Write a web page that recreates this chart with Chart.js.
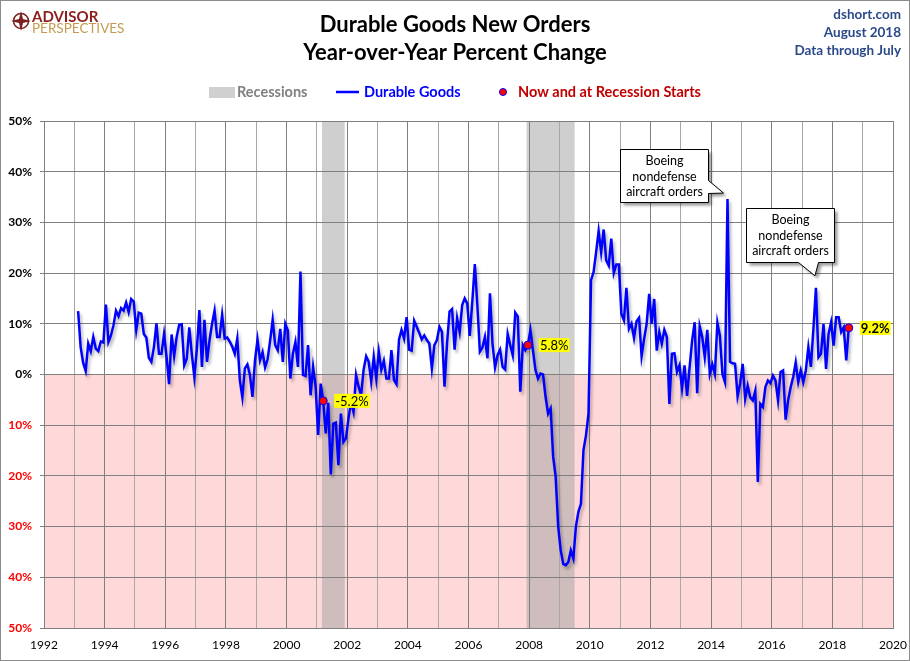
<!DOCTYPE html>
<html>
<head>
<meta charset="utf-8">
<title>Durable Goods New Orders</title>
<script src="https://cdn.jsdelivr.net/npm/chart.js@4.4.0/dist/chart.umd.min.js"></script>
<style>
    html, body { margin: 0; padding: 0; background: #fff; }
    #wrap { width: 910px; height: 661px; }
</style>
</head>
<body>
<div id="wrap"><canvas id="chart" width="910" height="661"></canvas></div>
<script>
// year-over-year % change of durable goods new orders, monthly, first value is Feb 1993
const startYear = 1993
const startMonth = 2

const yoy1990s = [
    12.5, 5.4, 2.3, 0.7, 6.1, 4.6, 7.4, 5.1, 4.6, 6.5, 6.3,
    13.8, 6.4, 7.7, 9.7, 12.6, 11.5, 13.1, 12.6, 14.2, 12.3, 14.9, 14.4,
    8.7, 12.2, 12.0, 8.0, 7.3, 3.3, 2.5, 5.4, 10.1, 4.1, 4.1, 8.0,
    3.5, -1.9, 7.9, 3.6, 7.4, 9.8, 9.9, 1.8, 3.1, 9.3, 4.0, -0.5,
    5.0, 12.7, 1.5, 10.8, 2.5, 6.7, 10.0, 12.6, 7.4, 7.4, 11.8, 7.1,
    7.3, 6.5, 5.5, 4.1, 7.1, -1.1, -4.5, 1.2, 2.0, -0.1, -4.4, 2.8,
    6.9, 2.8, 4.4, 1.4, 3.0, 6.7, 10.8, 5.8, 4.8, 9.0, 2.5, 10.0
]
const yoy2000s = [
    8.7, -0.8, 4.1, 6.4, 1.5, 20.3, -0.1, -0.3, 5.8, -4.1, 1.5, -2.4,
    -11.9, -1.8, -5.2, -11.6, -5.6, -19.7, -9.7, -9.5, -17.9, -7.7, -13.3, -12.6,
    -8.7, -5.4, -7.4, -0.1, -2.4, -4.1, 1.0, 3.6, 2.5, -1.4, 3.5, -0.8,
    4.5, 0.9, 2.7, -0.8, -0.8, 4.8, -1.1, -1.9, 6.9, 8.8, 7.1, 11.3,
    4.9, 4.7, 10.6, 9.4, 8.2, 6.9, 7.7, 6.8, 6.1, 1.2, 5.8, 6.8,
    9.4, 8.4, -2.4, 6.1, 12.4, 12.9, 4.9, 11.1, 8.4, 13.7, 15.0, 14.0,
    7.6, 14.3, 21.8, 13.7, 4.5, 5.3, 7.4, 3.2, 16.0, 6.1, 1.4, 3.8,
    4.9, 1.5, 1.0, 8.0, 5.8, 3.8, 12.2, 11.4, -3.4, 5.8, 4.8, 5.8,
    8.8, 4.8, 0.9, -0.8, 0.2, 0.0, -4.4, -7.7, -6.7, -16.2, -20.2, -30.0,
    -34.7, -37.4, -37.6, -37.0, -34.7, -36.3, -30.0, -27.1, -25.5, -14.9, -12.0, -7.7
]
const yoy2010s = [
    18.6, 20.2, 24.1, 28.3, 24.1, 28.6, 22.5, 21.5, 26.8, 20.0, 21.7, 21.7,
    12.0, 10.7, 17.1, 9.0, 10.0, 7.2, 10.5, 11.2, 3.6, 7.0, 10.0, 15.9,
    10.0, 14.9, 4.7, 8.4, 6.1, 8.8, 7.4, -5.8, 4.1, 4.2, 0.5, 1.8,
    -2.8, 1.8, -4.2, 1.4, 6.7, 10.3, -3.7, 9.5, 7.4, 3.4, 8.8, 0.1,
    2.0, 0.1, 10.2, 7.6, 0.1, -1.5, 34.6, 2.5, 2.2, 2.1, -4.3, -1.8,
    2.1, -4.8, -2.2, -4.5, -5.1, -3.2, -21.2, -5.8, -6.4, -2.5, -1.2, -1.7,
    -0.2, -1.2, -5.1, 0.5, 0.8, -8.9, -5.1, -2.5, -0.5, 2.4, -1.5, 0.8,
    -1.5, 0.8, 5.4, 1.5, 9.0, 17.1, 3.4, 4.1, 10.0, 1.1, 8.0, 10.3,
    5.7, 11.3, 11.3, 8.4, 9.3, 2.8, 9.2
]

const recessions = [['2001-03', '2001-11'], ['2007-12', '2009-06']]
const markerMonths = ['2001-03', '2007-12', '2018-07']
const boeingMonths = ['2014-07', '2017-06']
const calloutText = ['Boeing', 'nondefense', 'aircraft orders']
const yTicks = [-50, -40, -30, -20, -10, 0, 10, 20, 30, 40, 50]
const xLabelYears = [1992, 1994, 1996, 1998, 2000, 2002, 2004, 2006, 2008, 2010, 2012, 2014, 2016, 2018, 2020]

const FONT = 'Lato, "Open Sans", sans-serif'

const yoyValues = yoy1990s.concat(yoy2000s, yoy2010s)

function parseYM(ym) {
    const parts = ym.split('-')
    return [Number(parts[0]), Number(parts[1])]
}
function monthIndex(ym) {
    const [y, m] = parseYM(ym)
    return (y - startYear) * 12 + (m - startMonth)
}
function monthX(i) {
    return startYear + (startMonth - 1 + i + 0.5) / 12
}

const seriesPoints = yoyValues.map((v, i) => ({ x: monthX(i), y: v }))
const markerPoints = markerMonths.map(ym => seriesPoints[monthIndex(ym)])


// pink negative zone, grey recession bars, outer frame
const backdrop = {
    id: 'backdrop',
    beforeDraw(chart) {
        const { ctx, chartArea: a, scales: { x, y } } = chart
        ctx.save()
        ctx.fillStyle = '#ffffff'
        ctx.fillRect(0, 0, chart.width, chart.height)

        const y0 = y.getPixelForValue(0)
        ctx.fillStyle = '#FFD9D9'
        ctx.fillRect(a.left, y0, a.right - a.left, a.bottom - y0)

        ctx.fillStyle = 'rgba(160,160,160,0.5)'
        recessions.forEach(function (r) {
            const [sy, sm] = parseYM(r[0])
            const [ey, em] = parseYM(r[1])
            const x1 = x.getPixelForValue(sy + (sm - 1) / 12)
            const x2 = x.getPixelForValue(ey + em / 12)
            ctx.fillRect(x1, a.top, x2 - x1, a.bottom - a.top)
        })

        ctx.strokeStyle = '#8c8c8c'
        ctx.lineWidth = 1
        ctx.strokeRect(0.5, 0.5, chart.width - 1, chart.height - 1)
        ctx.restore()
    }
}

// soft shadow under the blue line
const lineShadow = {
    id: 'lineShadow',
    beforeDatasetDraw(chart, args) {
        if (args.index !== 1) return
        const ctx = chart.ctx
        ctx.save()
        ctx.shadowColor = 'rgba(0,0,0,0.28)'
        ctx.shadowBlur = 3
        ctx.shadowOffsetX = 2
        ctx.shadowOffsetY = 3
    },
    afterDatasetDraw(chart, args) {
        if (args.index !== 1) return
        chart.ctx.restore()
    }
}

// header, legend, value labels and callouts
const overlay = {
    id: 'overlay',
    afterDraw(chart) {
        const ctx = chart.ctx
        ctx.save()

        // logo
        ctx.strokeStyle = '#7B1F1F'
        ctx.fillStyle = '#7B1F1F'
        ctx.lineWidth = 1.6
        ctx.beginPath()
        ctx.arc(21, 21, 7.5, 0, Math.PI * 2)
        ctx.stroke()
        ctx.beginPath()
        ctx.moveTo(21, 11); ctx.lineTo(23, 19); ctx.lineTo(31, 21); ctx.lineTo(23, 23)
        ctx.lineTo(21, 31); ctx.lineTo(19, 23); ctx.lineTo(11, 21); ctx.lineTo(19, 19)
        ctx.closePath()
        ctx.fill()
        ctx.textAlign = 'left'
        ctx.textBaseline = 'alphabetic'
        ctx.font = 'bold 15px ' + FONT
        ctx.fillStyle = '#8B1E1E'
        ctx.fillText('ADVISOR', 32, 22)
        ctx.font = '13.5px ' + FONT
        ctx.fillStyle = '#C49B4E'
        ctx.fillText('PERSPECTIVES', 32, 33)

        // title
        ctx.textAlign = 'center'
        ctx.textBaseline = 'middle'
        ctx.fillStyle = '#000000'
        ctx.font = 'bold 22px ' + FONT
        ctx.fillText('Durable Goods New Orders', 455, 25)
        ctx.fillText('Year-over-Year Percent Change', 455, 53)

        // notes top right
        ctx.textAlign = 'right'
        ctx.fillStyle = '#2B4A8A'
        ctx.font = 'bold 13.5px ' + FONT
        ctx.fillText('dshort.com', 901, 15)
        ctx.fillText('August 2018', 901, 33)
        ctx.fillText('Data through July', 901, 51)

        // legend
        ctx.textAlign = 'left'
        ctx.font = 'bold 14.5px ' + FONT
        ctx.fillStyle = '#D0D0D0'
        ctx.fillRect(209, 87, 26, 11)
        ctx.fillStyle = '#808080'
        ctx.fillText('Recessions', 237, 92)
        ctx.strokeStyle = '#0000FF'
        ctx.lineWidth = 2.5
        ctx.beginPath()
        ctx.moveTo(336, 92); ctx.lineTo(359, 92)
        ctx.stroke()
        ctx.fillStyle = '#0000FF'
        ctx.fillText('Durable Goods', 364, 92)
        ctx.beginPath()
        ctx.arc(503, 92, 3.5, 0, Math.PI * 2)
        ctx.fillStyle = '#FF0000'
        ctx.fill()
        ctx.lineWidth = 1
        ctx.strokeStyle = '#0000FF'
        ctx.stroke()
        ctx.fillStyle = '#C00000'
        ctx.fillText('Now and at Recession Starts', 518, 92)

        // yellow value labels next to the red dots
        const dots = chart.getDatasetMeta(0).data
        markerPoints.forEach(function (p, i) {
            const el = dots[i]
            const txt = p.y.toFixed(1) + '%'
            ctx.font = (i === markerPoints.length - 1 ? 'bold ' : '') + '13px ' + FONT
            const w = ctx.measureText(txt).width
            const lx = el.x + 12
            ctx.fillStyle = '#FFFF00'
            ctx.fillRect(lx - 1, el.y - 7, w + 2, 14)
            ctx.fillStyle = '#000000'
            ctx.textBaseline = 'middle'
            ctx.fillText(txt, lx, el.y + 0.5)
        })

        // Boeing callouts
        const line = chart.getDatasetMeta(1).data
        const boxes = [
            { dx: -107, dy: -50, w: 88, h: 53, tail: 'right' },
            { dx: -70, dy: -80, w: 88, h: 54, tail: 'bottom' }
        ]
        boeingMonths.forEach(function (ym, i) {
            const el = line[monthIndex(ym)]
            const b = boxes[i]
            const bx = Math.round(el.x + b.dx) + 0.5
            const by = Math.round(el.y + b.dy) + 0.5
            ctx.beginPath()
            ctx.moveTo(bx, by)
            ctx.lineTo(bx + b.w, by)
            if (b.tail === 'right') {
                ctx.lineTo(bx + b.w, by + 31)
                ctx.lineTo(el.x - 4, el.y - 6)
                ctx.lineTo(bx + b.w, by + 44)
                ctx.lineTo(bx + b.w, by + b.h)
                ctx.lineTo(bx, by + b.h)
            } else {
                ctx.lineTo(bx + b.w, by + b.h)
                ctx.lineTo(bx + 72, by + b.h)
                ctx.lineTo(el.x - 1, el.y - 12)
                ctx.lineTo(bx + 52, by + b.h)
                ctx.lineTo(bx, by + b.h)
            }
            ctx.closePath()
            ctx.save()
            ctx.shadowColor = 'rgba(0,0,0,0.4)'
            ctx.shadowBlur = 3
            ctx.shadowOffsetX = 3
            ctx.shadowOffsetY = 3
            ctx.fillStyle = '#ffffff'
            ctx.fill()
            ctx.restore()
            ctx.strokeStyle = '#000000'
            ctx.lineWidth = 1
            ctx.stroke()

            ctx.fillStyle = '#000000'
            ctx.font = '12.5px ' + FONT
            ctx.textAlign = 'center'
            ctx.textBaseline = 'middle'
            calloutText.forEach(function (t, k) {
                ctx.fillText(t, bx + b.w / 2, by + 11.5 + k * 15.5)
            })
            ctx.textAlign = 'left'
        })

        ctx.restore()
    }
}


let ctxChart = document.getElementById('chart').getContext('2d')
const chart = new Chart(ctxChart, {
    type: 'line',
    data: {
        datasets: [{
            label: 'Now and at Recession Starts',
            data: markerPoints,
            showLine: false,
            pointRadius: 4,
            pointBackgroundColor: '#FF0000',
            pointBorderColor: '#0000FF',
            pointBorderWidth: 1,
            order: 0
        }, {
            label: 'Durable Goods',
            data: seriesPoints,
            borderColor: '#0000FF',
            borderWidth: 2.5,
            pointRadius: 0,
            tension: 0,
            fill: false,
            order: 1
        }]
    },
    options: {
        responsive: false,
        animation: false,
        events: [],
        layout: {
            padding: { left: 0, right: 17, top: 121, bottom: 0 }
        },
        plugins: {
            legend: { display: false },
            tooltip: { enabled: false }
        },
        scales: {
            x: {
                type: 'linear',
                min: 1992,
                max: 2020,
                afterFit: function (s) {
                    s.height = 33
                    s.paddingLeft = 0
                    s.paddingRight = 0
                },
                grid: {
                    color: function (c) {
                        return c.tick && c.tick.value % 2 !== 0 ? '#A8A8A8' : '#808080'
                    },
                    lineWidth: 1,
                    drawTicks: false
                },
                border: { color: '#808080' },
                ticks: {
                    stepSize: 1,
                    autoSkip: false,
                    maxRotation: 0,
                    padding: 10,
                    color: '#000000',
                    font: { size: 12, family: FONT },
                    callback: function (v) {
                        return xLabelYears.includes(v) ? String(v) : ''
                    }
                }
            },
            y: {
                min: yTicks[0],
                max: yTicks[yTicks.length - 1],
                afterFit: function (s) {
                    s.width = 44
                    s.paddingTop = 0
                    s.paddingBottom = 0
                },
                afterBuildTicks: function (s) {
                    s.ticks = yTicks.map(v => ({ value: v }))
                },
                grid: {
                    color: '#808080',
                    lineWidth: 1,
                    tickLength: 4
                },
                border: { color: '#808080' },
                ticks: {
                    padding: 8,
                    color: function (c) {
                        return c.tick && c.tick.value < 0 ? '#FF0000' : '#000000'
                    },
                    font: { size: 12, weight: 'bold', family: FONT },
                    callback: function (v) {
                        return Math.abs(v) + '%'
                    }
                }
            }
        }
    },
    plugins: [backdrop, lineShadow, overlay]
})
</script>
</body>
</html>
